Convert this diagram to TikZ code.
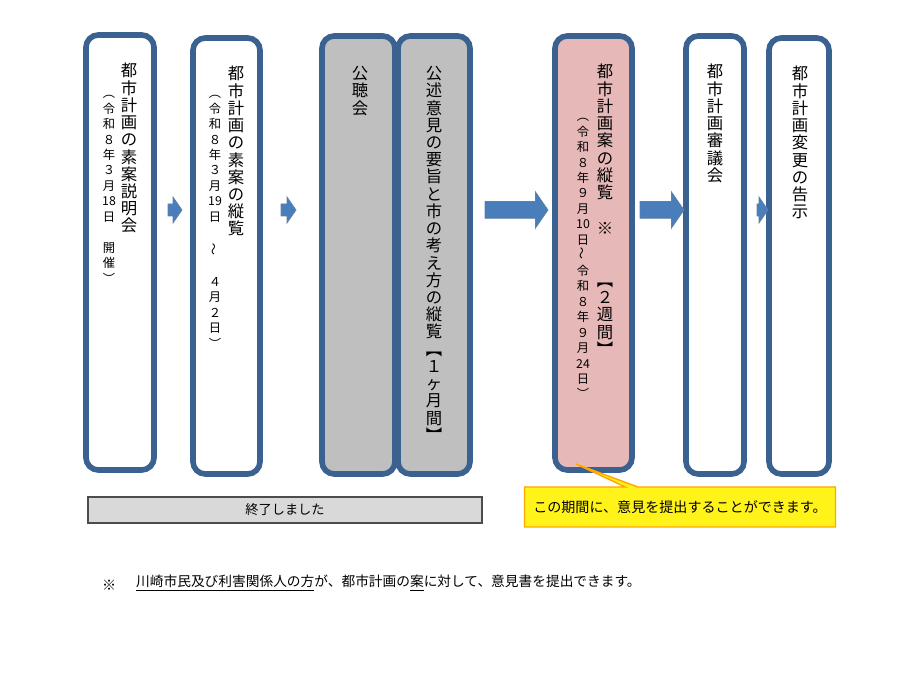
\documentclass[tikz,border=0pt]{standalone}
\usepackage{fontspec}
\usepackage{graphicx}
\setmainfont{Noto Sans CJK JP}
\usetikzlibrary{shapes.callouts}
\definecolor{frameblue}{HTML}{3B6191}
\definecolor{arrowblue}{HTML}{4A7EBB}
\definecolor{boxgray}{HTML}{BFBFBF}
\definecolor{boxpink}{HTML}{E6B9B8}
\makeatletter
\newcommand\vstack[1]{\@tfor\vchar:=#1\do{\vchar\\}}
\makeatother
\newcommand\tilt{\rotatebox{90}{～}}

\begin{document}
\begin{tikzpicture}[x=0.2mm, y=-0.2mm,
    stepbox/.style={draw=frameblue, line width=3.2pt, rounded corners=7pt, fill=white},
    maincol/.style={anchor=north, align=center, inner sep=0pt, font=\fontsize{9.3}{9.8}\selectfont},
    subcol/.style={anchor=north, align=center, inner sep=0pt, font=\fontsize{7}{8.8}\selectfont},
    flow/.style={fill=arrowblue, draw=frameblue!80, line width=0.4pt}
]
\useasboundingbox (0,0) rectangle (900,700);

% Steps
\draw[stepbox] (86,35) rectangle (154,470);
\draw[stepbox] (193,38) rectangle (260,474);
\draw[stepbox, fill=boxgray] (322,36) rectangle (395,474);
\draw[stepbox, fill=boxgray] (398,36) rectangle (470,474);
\draw[stepbox, fill=boxpink] (555,36) rectangle (632,470);
\draw[stepbox] (686,36) rectangle (744,474);
\draw[stepbox] (769,38) rectangle (829,474);

% Step texts
\node[maincol] (t1) at (129,63) {\vstack{都市計画の素案説明会}};
\node[subcol] (s1) at (109,95) {\vstack{︵令和８年３月{18}日{\strut}開催︶}};
\node[maincol] (t2) at (236,66) {\vstack{都市計画の素案の縦覧}};
\node[subcol] (s2) at (215,95) {\vstack{︵令和８年３月{19}日{\strut}\tilt{\strut}４月２日︶}};
\node[maincol] (t3) at (360,66) {\vstack{公聴会}};
\node[maincol] (t4) at (434,66) {\vstack{公述意見の要旨と市の考え方の縦覧︻１ヶ月間︼}};
\node[maincol] (t5) at (605,64) {\vstack{都市計画案の縦覧{\strut}※{\strut}{\strut}︻２週間︼}};
\node[subcol] (s5) at (583,118) {\vstack{︵令和８年９月{10}日\tilt 令和８年９月{24}日︶}};
\node[maincol] (t6) at (715,64) {\vstack{都市計画審議会}};
\node[maincol] (t7) at (800,66) {\vstack{都市計画変更の告示}};

% Flow arrows
\foreach \xa/\xb/\h in {168/182/10, 281/296/10, 485/548/14, 640/684/14, 757/768/10} {
    \fill[flow] (\xa,210-\h*0.6) -- (\xb-\h*0.9,210-\h*0.6) -- (\xb-\h*0.9,210-\h*1.3)
        -- (\xb,210) -- (\xb-\h*0.9,210+\h*1.3) -- (\xb-\h*0.9,210+\h*0.6) -- (\xa,210+\h*0.6) -- cycle;
}

% Finished bar
\node[draw=black!70, fill=black!15, line width=1pt, minimum width=394*0.2mm, minimum height=26*0.2mm,
    font=\fontsize{7.5}{9}\selectfont] (done) at (285,510) {終了しました};

% Callout
\node[rectangle callout, draw=orange!70!yellow, fill=yellow!90!white, line width=0.8pt,
    minimum width=311*0.2mm, minimum height=40*0.2mm, inner xsep=2pt, font=\fontsize{8}{10}\selectfont,
    callout absolute pointer={(576,464)}] (note) at (680,507) {この期間に、意見を提出することができます。};

% Footnote
\node[anchor=west, font=\fontsize{8}{10}\selectfont] (mark) at (96,585) {※};
\node[anchor=west, font=\fontsize{7.8}{10}\selectfont] (foot) at (130,583)
    {\underline{川崎市民及び利害関係人の方}が、都市計画の\underline{案}に対して、意見書を提出できます。};
\end{tikzpicture}
\end{document}
